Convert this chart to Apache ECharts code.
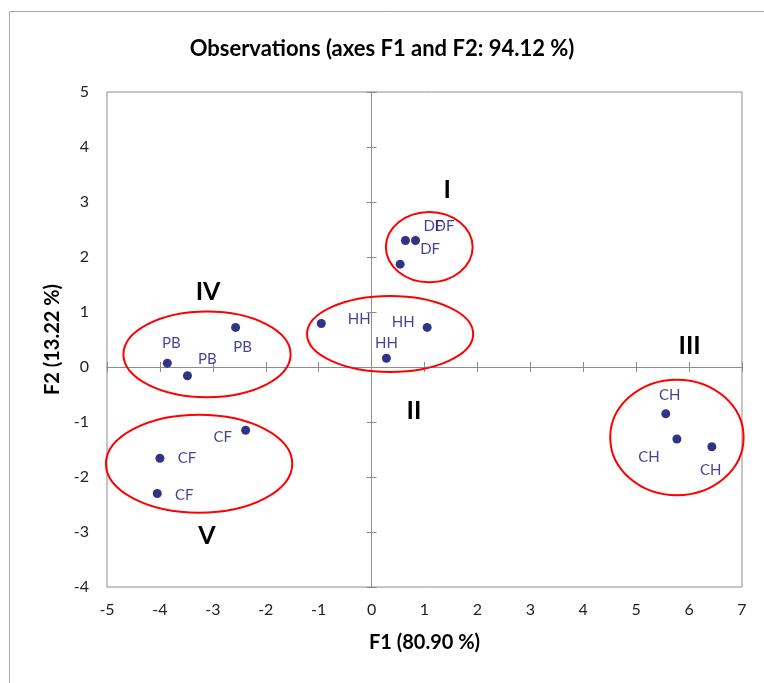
<!DOCTYPE html>
<html>
<head>
<meta charset="utf-8">
<script src="https://cdn.jsdelivr.net/npm/echarts@6/dist/echarts.min.js"></script>
<style>html,body{margin:0;padding:0;background:#fff}#c{width:764px;height:683px}</style>
</head>
<body>
<div id="c"></div>
<script>
// Observations (F1, F2 scores)
const obsNames = ['DF','DF','DF','HH','HH','HH','PB','PB','PB','CF','CF','CF','CH','CH','CH'];
const f1 = [0.64, 0.83, 0.54, -0.95, 1.05, 0.28, -3.86, -3.48, -2.57, -2.38, -4.00, -4.05, 5.56, 5.77, 6.43];
const f2 = [2.30, 2.30, 1.87, 0.79, 0.72, 0.16, 0.07, -0.16, 0.72, -1.15, -1.66, -2.30, -0.85, -1.31, -1.45];

// Group ellipses (data units)
const groupNames = ['I','II','III','IV','V'];
const ellCx = [1.09, 0.35, 5.77, -3.11, -3.26];
const ellCy = [2.18, 0.60, -1.28, 0.23, -1.76];
const ellRx = [0.82, 1.57, 1.26, 1.58, 1.76];
const ellRy = [0.64, 0.69, 1.05, 0.78, 0.89];
const groupLabelX = [1.43, 0.80, 6.01, -3.09, -3.11];
const groupLabelY = [3.22, -0.80, 0.38, 1.36, -3.07];

// axis ticks
const xMin = -5, xMax = 7, yMin = -4, yMax = 5, tickStep = 1;

// label offsets (px), styling only
const labelOffsets = [[28,-14],[29,-14],[30,-15],[38,-4],[-24,-5],[0,-15],[4,-20],[20,-17],[7,20],[-23,7],[27,0],[27,2],[4,-19],[-28,18],[-1,23]];

const fontFam = 'Lato, "Open Sans", sans-serif';
const gray = '#8c8c8c';

const pointData = obsNames.map((n, i) => ({
  value: [f1[i], f2[i]],
  name: n,
  label: { offset: labelOffsets[i] }
}));

const ellData = groupNames.map((g, i) => [ellCx[i], ellCy[i], ellRx[i], ellRy[i]]);
const groupLabelData = groupNames.map((g, i) => [groupLabelX[i], groupLabelY[i], g]);

const zeroAxisX = inside => ({
  type: 'value', min: xMin, max: xMax, interval: tickStep, position: 'bottom',
  axisLine: { show: true, onZero: true, onZeroAxisIndex: 0, lineStyle: { color: gray, width: 1 } },
  axisTick: { show: true, inside: inside, length: 5, lineStyle: { color: gray } },
  axisLabel: { show: false }, splitLine: { show: false }
});
const zeroAxisY = inside => ({
  type: 'value', min: yMin, max: yMax, interval: tickStep, position: 'left',
  axisLine: { show: true, onZero: true, onZeroAxisIndex: 0, lineStyle: { color: gray, width: 1 } },
  axisTick: { show: true, inside: inside, length: 5, lineStyle: { color: gray } },
  axisLabel: { show: false }, splitLine: { show: false }
});

const chart = echarts.init(document.getElementById('c'));
chart.setOption({
  animation: false,
  backgroundColor: '#fff',
  title: {
    text: 'Observations (axes F1 and F2: 94.12 %)',
    left: 'center', top: 33,
    textStyle: { fontFamily: fontFam, fontWeight: 'bold', fontSize: 22, color: '#000' }
  },
  graphic: [{
    type: 'rect', left: 7, top: 9, silent: true,
    shape: { width: 900, height: 900 },
    style: { fill: 'none', stroke: '#a6a6a6', lineWidth: 1 }
  }],
  grid: { left: 107, top: 92, right: 22, bottom: 96, show: true, borderColor: gray, borderWidth: 1, backgroundColor: 'transparent' },
  xAxis: [
    {
      type: 'value', min: xMin, max: xMax, interval: tickStep, position: 'bottom',
      axisLine: { show: false, onZero: false }, axisTick: { show: false }, splitLine: { show: false },
      axisLabel: { fontFamily: fontFam, fontSize: 16, color: '#222', margin: 15 },
      name: 'F1 (80.90 %)', nameLocation: 'middle', nameGap: 46,
      nameTextStyle: { fontFamily: fontFam, fontWeight: 'bold', fontSize: 20, color: '#000' }
    },
    zeroAxisX(true), zeroAxisX(false)
  ],
  yAxis: [
    {
      type: 'value', min: yMin, max: yMax, interval: tickStep, position: 'left',
      axisLine: { show: false, onZero: false }, axisTick: { show: false }, splitLine: { show: false },
      axisLabel: { fontFamily: fontFam, fontSize: 16, color: '#222', margin: 18 },
      name: 'F2 (13.22 %)', nameLocation: 'middle', nameGap: 39, nameRotate: 90,
      nameTextStyle: { fontFamily: fontFam, fontWeight: 'bold', fontSize: 20, color: '#000' }
    },
    zeroAxisY(true), zeroAxisY(false)
  ],
  series: [
    {
      type: 'custom', xAxisIndex: 0, yAxisIndex: 0, silent: true, clip: false,
      data: ellData,
      renderItem: (params, api) => {
        const c = api.coord([api.value(0), api.value(1)]);
        const s = api.size([api.value(2), api.value(3)]);
        return {
          type: 'ellipse',
          shape: { cx: c[0], cy: c[1], rx: s[0], ry: s[1] },
          style: { fill: 'none', stroke: '#ff0000', lineWidth: 2 }
        };
      }
    },
    {
      type: 'scatter', xAxisIndex: 0, yAxisIndex: 0,
      symbol: 'circle', symbolSize: 9,
      itemStyle: { color: '#000066' },
      label: {
        show: true, position: 'inside', formatter: '{b}',
        fontFamily: fontFam, fontSize: 15, color: '#141478'
      },
      data: pointData
    },
    {
      type: 'custom', xAxisIndex: 0, yAxisIndex: 0, silent: true,
      data: groupLabelData,
      renderItem: (params, api) => {
        const c = api.coord([api.value(0), api.value(1)]);
        return {
          type: 'text', x: c[0], y: c[1],
          style: {
            text: groupLabelData[params.dataIndex][2],
            fill: '#000', font: 'bold 25px ' + fontFam,
            align: 'center', verticalAlign: 'middle'
          }
        };
      }
    }
  ]
});
</script>
</body>
</html>
